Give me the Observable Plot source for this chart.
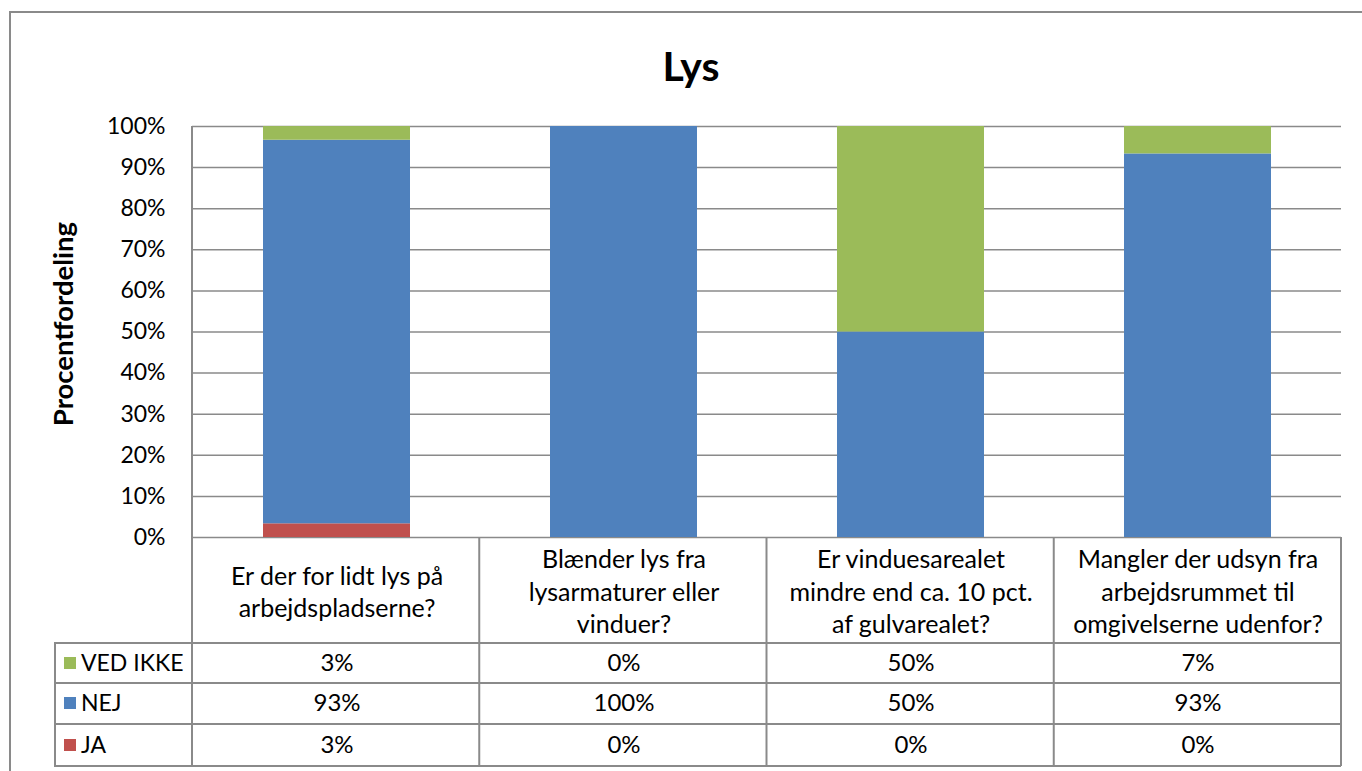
<!DOCTYPE html>
<html>
<head>
<meta charset="utf-8">
<script src="https://cdn.jsdelivr.net/npm/d3@7"></script>
<script src="https://cdn.jsdelivr.net/npm/@observablehq/plot@0.6"></script>
<style>
  html, body { margin: 0; padding: 0; background: #fff; overflow: hidden; }
  #wrap { position: relative; width: 1362px; height: 771px; overflow: hidden; }
  #frame { position: absolute; left: 9px; top: 11px; width: 1400px; height: 800px; border: 2px solid #8a8a8a; box-sizing: border-box; }
  #chart { position: absolute; left: 0; top: 0; }
</style>
</head>
<body>
<div id="wrap"><div id="frame"></div><div id="chart"></div></div>
<script>
// ---- data ----
const title = "Lys";
const yLabel = "Procentfordeling";
const categories = [
  "Er der for lidt lys på arbejdspladserne?",
  "Blænder lys fra lysarmaturer eller vinduer?",
  "Er vinduesarealet mindre end ca. 10 pct. af gulvarealet?",
  "Mangler der udsyn fra arbejdsrummet til omgivelserne udenfor?"
];
const categoryLabels = [
  "Er der for lidt lys på\narbejdspladserne?",
  "Blænder lys fra\nlysarmaturer eller\nvinduer?",
  "Er vinduesarealet\nmindre end ca. 10 pct.\naf gulvarealet?",
  "Mangler der udsyn fra\narbejdsrummet til\nomgivelserne udenfor?"
];
const seriesNames = ["JA", "NEJ", "VED IKKE"];
const seriesColors = ["#C0504D", "#4F81BD", "#9BBB59"];
const ja = [3.33, 0, 0, 0];
const nej = [93.33, 100, 50, 93.33];
const vedIkke = [3.33, 0, 50, 6.67];
const yTicks = [0, 0.1, 0.2, 0.3, 0.4, 0.5, 0.6, 0.7, 0.8, 0.9, 1.0];
// table rows, top to bottom
const tableRows = [
  {name: "VED IKKE", values: vedIkke},
  {name: "NEJ", values: nej},
  {name: "JA", values: ja}
];

// ---- build ----
const seriesValues = [ja, nej, vedIkke];
const data = [];
seriesNames.forEach((s, si) => categories.forEach((c, ci) => data.push({cat: c, series: s, value: seriesValues[si][ci] / 100})));
const labelOf = new Map(categories.map((c, i) => [c, categoryLabels[i]]));

const W = 1362, H = 771;
const mL = 192, mR = 21, mT = 126, mB = 234;
const gridColor = "#8a8a8a";
// table layout (px offsets below plot bottom)
const rowLines = [106, 146, 187, 229];
const rowCenters = [126, 166, 208];
const legendLeft = 137; // px left of plot area

const tableMark = (index, scales, values, dim) => {
  const g = d3.create("svg:g");
  const bottom = dim.height - dim.marginBottom;
  const left = dim.marginLeft, right = dim.width - dim.marginRight;
  const step = (right - left) / categories.length;
  const line = (x1, y1, x2, y2) => g.append("line").attr("x1", x1).attr("y1", y1).attr("x2", x2).attr("y2", y2)
    .attr("stroke", gridColor).attr("stroke-width", 2);
  // axis line
  line(left, dim.marginTop, left, bottom + rowLines[rowLines.length - 1]);
  // column separators
  for (let i = 1; i <= categories.length; i++) line(left + i * step, bottom, left + i * step, bottom + rowLines[rowLines.length - 1]);
  // legend column left border
  line(left - legendLeft, bottom + rowLines[0] - 1, left - legendLeft, bottom + rowLines[rowLines.length - 1] + 1);
  rowLines.forEach(o => line(left - legendLeft, bottom + o, right, bottom + o));
  // legend entries
  tableRows.forEach((r, i) => {
    const cy = bottom + rowCenters[i];
    const color = seriesColors[seriesNames.indexOf(r.name)];
    g.append("rect").attr("x", left - legendLeft + 9).attr("y", cy - 6).attr("width", 12).attr("height", 12).attr("fill", color);
    g.append("text").attr("x", left - legendLeft + 26).attr("y", cy).attr("dy", "0.36em")
      .attr("text-anchor", "start")
      .attr("font-family", "Lato").attr("font-size", 23).attr("fill", "#000").text(r.name);
  });
  return g.node();
};

const marks = [
  Plot.ruleY(yTicks, {stroke: gridColor, strokeWidth: 1.5}),
  Plot.barY(data, Plot.stackY({order: seriesNames}, {x: "cat", y: "value", fill: "series", z: "series"})),
  Plot.axisY({ticks: yTicks, tickFormat: d3.format(".0%"), tickSize: 0, tickPadding: 27, fontSize: 23, label: null, fill: "#000"}),
  Plot.text(categories, {x: d => d, text: d => labelOf.get(d), frameAnchor: "bottom", dy: 53, lineAnchor: "middle", lineHeight: 1.3, fontSize: 25, fill: "#000"}),
  ...tableRows.map((r, i) => Plot.text(categories, {x: d => d, text: (d, j) => Math.round(r.values[j]) + "%", frameAnchor: "bottom", dy: rowCenters[i], lineAnchor: "middle", fontSize: 24, fill: "#000"})),
  Plot.text([title], {frameAnchor: "top", dy: -59, dx: -76, textAnchor: "middle", fontSize: 41, fontWeight: "bold", fill: "#000", lineAnchor: "middle"}),
  Plot.text([yLabel], {frameAnchor: "left", dx: -128, dy: -8, rotate: -90, textAnchor: "middle", fontSize: 27.5, fontWeight: "bold", fill: "#000", lineAnchor: "middle"}),
  tableMark
];

const chart = Plot.plot({
  width: W, height: H,
  marginLeft: mL, marginRight: mR, marginTop: mT, marginBottom: mB,
  style: {fontFamily: "Lato", background: "transparent", color: "#000", overflow: "visible"},
  x: {domain: categories, paddingInner: 0.488, paddingOuter: 0.244, axis: null},
  y: {domain: [0, 1], axis: null},
  color: {domain: seriesNames, range: seriesColors},
  marks
});
document.getElementById("chart").appendChild(chart);
</script>
</body>
</html>
